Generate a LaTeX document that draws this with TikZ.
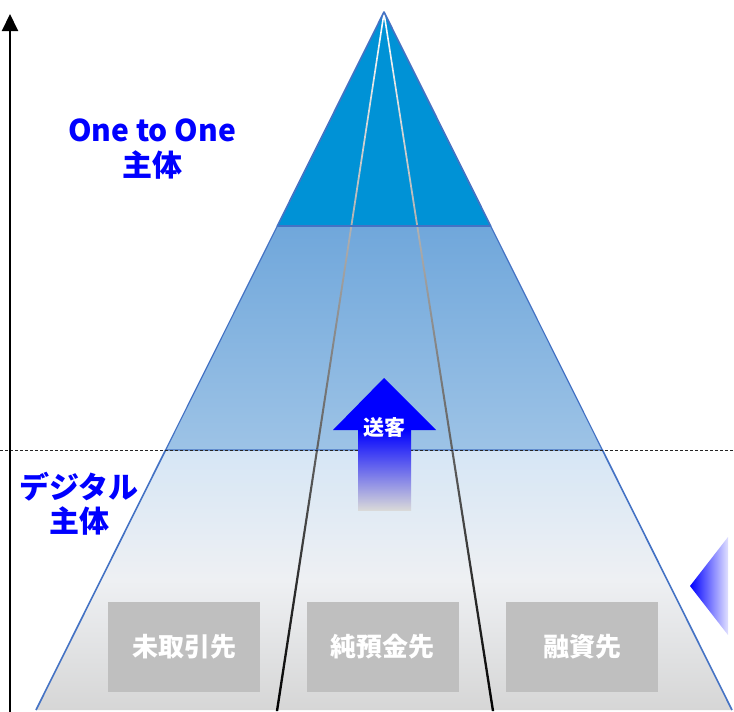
\documentclass[tikz,border=0pt]{standalone}
\usepackage{fontspec}
\setmainfont{Noto Sans CJK JP}
\usetikzlibrary{arrows.meta}
\definecolor{edgeblue}{HTML}{4472C4}
\definecolor{topblue}{HTML}{0092D6}
\definecolor{midtop}{HTML}{70A7DB}
\definecolor{midbot}{HTML}{9DC3E6}
\definecolor{lowtop}{HTML}{D6E6F5}
\definecolor{lowmid}{HTML}{EEF0F3}
\definecolor{lowbot}{HTML}{D6D6D6}
\definecolor{boxgray}{HTML}{BFBFBF}
\definecolor{labelblue}{HTML}{0000FF}
\tikzset{
  section/.style={draw=edgeblue, line width=1.6pt, line join=round},
  graybox/.style={fill=boxgray, minimum width=152pt, minimum height=90pt, inner sep=0pt,
    text=white, font=\bfseries\fontsize{26}{30}\selectfont},
  bluelabel/.style={text=labelblue, font=\bfseries\fontsize{30}{35}\selectfont, align=center, inner sep=0pt},
}
\begin{document}
\begin{tikzpicture}[x=1pt,y=-1pt]
\useasboundingbox (0,0) rectangle (734,712);
% pyramid corners
\coordinate (A) at (384,12);
\coordinate (L1) at (277.3,226);
\coordinate (R1) at (490.7,226);
\coordinate (L2) at (165.6,450);
\coordinate (R2) at (602.4,450);
\coordinate (BL) at (36,710);
\coordinate (BR) at (732,710);
% sections
\fill[topblue] (A) -- (R1) -- (L1) -- cycle;
\shade[top color=midtop, bottom color=midbot] (L1) -- (R1) -- (R2) -- (L2) -- cycle;
\shade[top color=lowtop, bottom color=lowbot, middle color=lowmid] (L2) -- (R2) -- (BR) -- (BL) -- cycle;
% inner lines
\shade[top color=white, bottom color=black] (383.2,13) -- (384.8,13) -- (278.2,711) -- (275.8,711) -- cycle;
\shade[top color=white, bottom color=black] (383.2,13) -- (384.8,13) -- (494.2,711) -- (491.8,711) -- cycle;
% outlines
\draw[section] (A) -- (R1) -- (L1) -- cycle;
\draw[section, line width=1.2pt] (L1) -- (R1) -- (R2) -- (L2) -- cycle;
\draw[section] (L2) -- (BL);
\draw[section] (R2) -- (BR);
% dashed line
\coordinate (dl) at (0,450);
\coordinate (dr) at (734,450);
\draw[black!85, line width=0.9pt, dash pattern=on 3pt off 2pt] (dl) -- (dr);
% vertical arrow
\coordinate (va) at (10,712);
\coordinate (vb) at (10,14);
\draw[line width=2pt, -{Triangle[width=16pt,length=17pt]}] (va) -- (vb);
% labels
\node[bluelabel] (oto) at (152,130) {One to One};
\node[bluelabel] (oto2) at (152,165) {主体};
\node[bluelabel] (dig) at (79,487) {デジタル};
\node[bluelabel] (dig2) at (79,521) {主体};
% boxes
\node[graybox] (b1) at (184,647) {未取引先};
\node[graybox] (b2) at (382.5,647) {純預金先};
\node[graybox] (b3) at (582,647) {融資先};
% up arrow
\fill[blue] (384,378) -- (436,430) -- (333,430) -- cycle;
\shade[top color=blue, bottom color=black!15] (358,429.5) rectangle (411,510);
\node[text=white, font=\bfseries\fontsize{21}{24}\selectfont, inner sep=0pt] (sk) at (384,428) {送客};
% right triangle
\shade[left color=blue, right color=blue!12] (690,586) -- (728,537) -- (728,635) -- cycle;
\end{tikzpicture}
\end{document}
